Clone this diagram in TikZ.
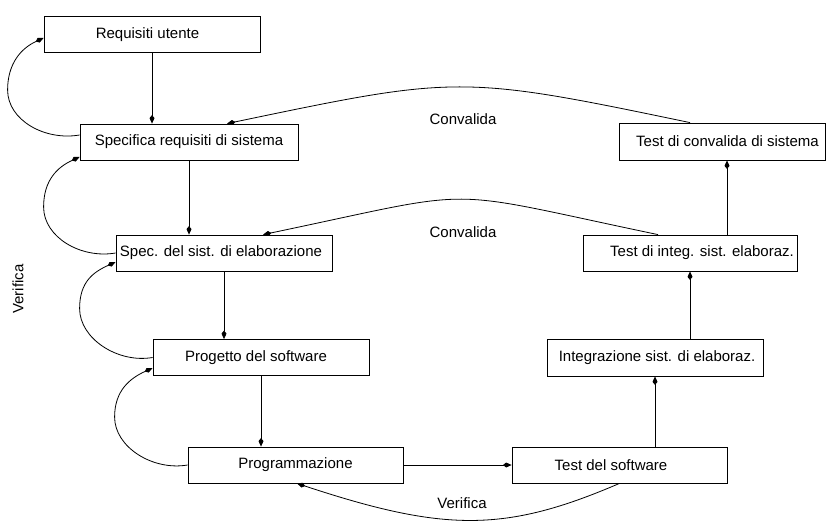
\documentclass[tikz,border=0pt]{standalone}
\usepackage{fontspec}
\setmainfont{Liberation Sans}
\usetikzlibrary{arrows.meta}
\begin{document}
\begin{tikzpicture}[x=1pt,y=-1pt,
  box/.style={draw,line width=0.8pt,minimum width=216pt,minimum height=36pt,inner sep=0pt,font=\fontsize{15}{18}\selectfont},
  lbl/.style={font=\fontsize{15}{18}\selectfont,inner sep=0pt},
  conn/.style={line width=0.8pt,-{Kite[length=8.5pt,width=5pt,inset=3pt]}}]
\useasboundingbox (0,0) rectangle (826,521);

\node[box] (b1) at (152,34.5) {Requisiti utente\hspace*{9pt}};
\node[box,minimum width=218pt] (b2) at (189,142) {Specifica requisiti di sistema};
\node[box] (b3) at (224,253) {Spec. del sist. di elaborazione\hspace*{6pt}};
\node[box] (b4) at (261,357.5) {Progetto del software\hspace*{10pt}};
\node[box,minimum width=215pt] (b5) at (295.5,465) {Programmazione};
\node[box,minimum width=215pt] (b6) at (619.5,465) {Test del software\hspace*{17pt}};
\node[box,minimum height=37pt] (b7) at (655,357.5) {\hspace*{4pt}Integrazione sist. di elaboraz.};
\node[box,minimum width=214pt] (b8) at (690,253) {\hspace*{24pt}Test di integ. sist. elaboraz.};
\node[box,minimum width=206pt,minimum height=37pt] (b9) at (722,141.5) {\hspace*{11pt}Test di convalida di sistema};

\node[lbl] (c1) at (463,119) {Convalida};
\node[lbl] (c2) at (463,232) {Convalida};
\node[lbl] (v1) at (462,503) {Verifica};
\node[lbl,rotate=90] (v2) at (18,289) {Verifica};

% forward arrows
\draw[conn] (b1.south) -- (b1.south |- b2.north);
\draw[conn] (b2.south) -- (b2.south |- b3.north);
\draw[conn] (b3.south) -- (b3.south |- b4.north);
\draw[conn] (b4.south) -- (b4.south |- b5.north);
\draw[conn] (b5.east) -- (b6.west);
\draw[conn] (b7.south |- b6.north) -- (b7.south);
\draw[conn] (b8.south |- b7.north) -- (b8.south);
\coordinate (t9) at ([xshift=5pt]b9.south);
\draw[conn] (t9 |- b8.north) -- (t9);

% convalida curves
\draw[conn] ([xshift=-32pt]b9.north) .. controls +(-230,-48) and +(230,-48) .. ([xshift=38pt]b2.north);
\draw[conn] ([xshift=-32pt]b8.north) .. controls +(-225,-47) and +(225,-47) .. ([xshift=39pt]b3.north);

% verifica bottom curve
\draw[conn] (b6.south) .. controls +(-114,49) and +(148,49) .. ([xshift=1.5pt]b5.south);

% verifica loops
\draw[conn] ([yshift=7pt]b2.west) .. controls +(-35,6) and +(0,30) .. ++(-72,-45)
  .. controls +(0,-27) and +(-22,10) .. ([yshift=-3.5pt]b1.west);
\draw[conn] (b3.west) .. controls +(-35,6) and +(0,30) .. ++(-72,-46)
  .. controls +(0,-27) and +(-22,10) .. ([yshift=-15pt]b2.west);
\draw[conn] (b4.west) .. controls +(-35,6) and +(0,30) .. ++(-73,-49)
  .. controls +(0,-27) and +(-22,10) .. ([yshift=-9pt]b3.west);
\draw[conn] (b5.west) .. controls +(-35,6) and +(0,30) .. ++(-73,-48)
  .. controls +(0,-27) and +(-22,10) .. ([yshift=-10.5pt]b4.west);
\end{tikzpicture}
\end{document}
